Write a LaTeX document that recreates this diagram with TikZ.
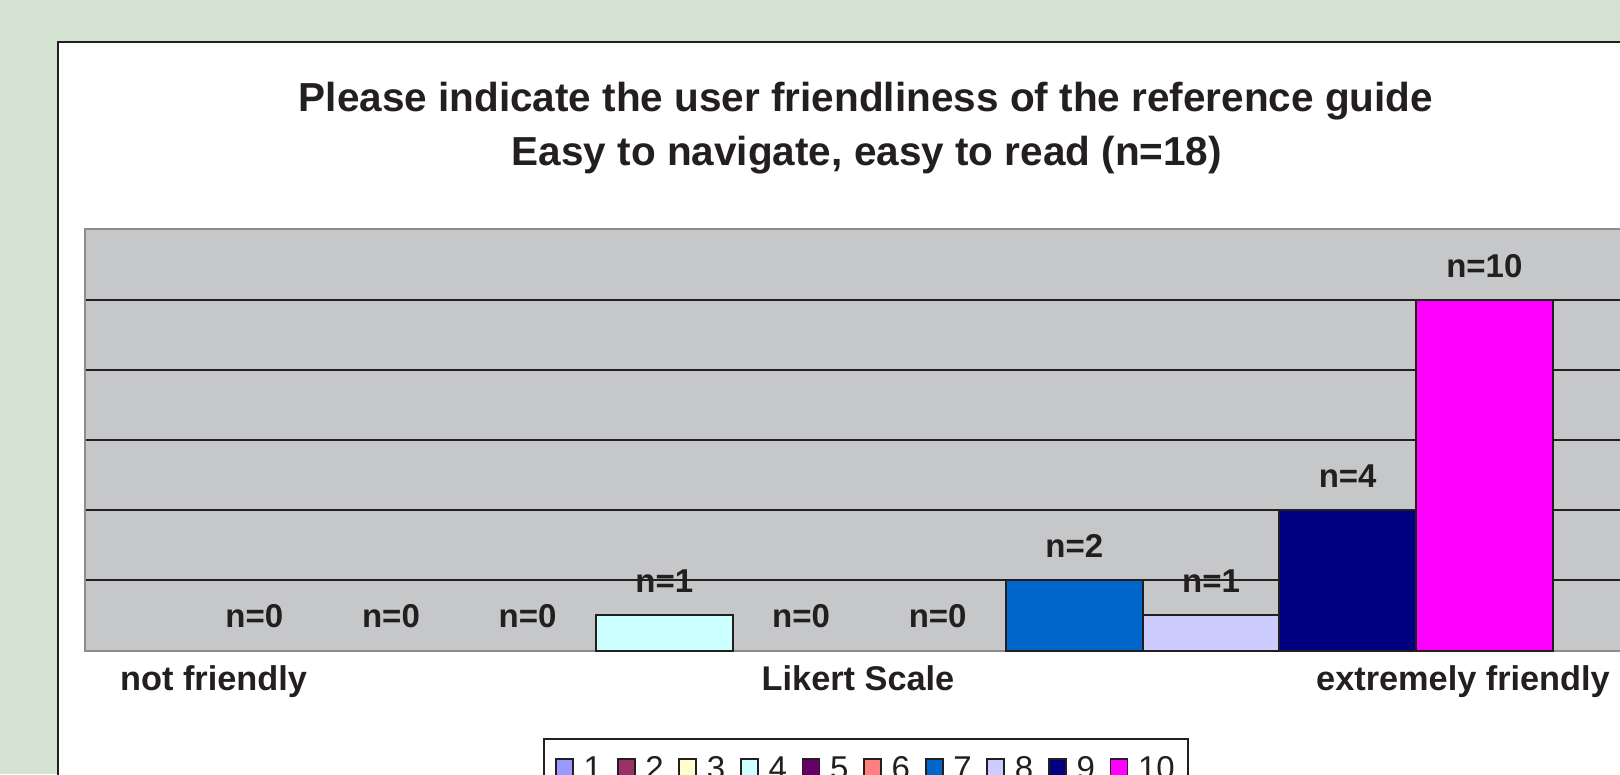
\documentclass[tikz,border=0pt]{standalone}
\usepackage{fontspec}
\setmainfont{Liberation Sans}
\definecolor{bggreen}{RGB}{212,227,209}
\definecolor{plotgray}{RGB}{198,199,201}
\definecolor{framegray}{RGB}{140,140,140}
\definecolor{ink}{RGB}{35,31,32}
\definecolor{c1}{RGB}{153,153,255}
\definecolor{c2}{RGB}{153,51,102}
\definecolor{c3}{RGB}{255,255,204}
\definecolor{c4}{RGB}{204,255,255}
\definecolor{c5}{RGB}{102,0,102}
\definecolor{c6}{RGB}{255,128,128}
\definecolor{c7}{RGB}{0,102,204}
\definecolor{c8}{RGB}{204,204,255}
\definecolor{c9}{RGB}{0,0,128}
\definecolor{c10}{RGB}{255,0,255}
\tikzset{
  panel/.style={draw=ink, line width=2pt, fill=white},
  plotframe/.style={draw=framegray, line width=2pt},
  gridline/.style={draw=ink, line width=1.9pt},
  barbox/.style={draw=ink, line width=2pt},
  titletext/.style={inner sep=0pt, text=ink, font=\fontsize{40.5}{48}\selectfont\bfseries},
  barlabel/.style={inner sep=0pt, text=ink, font=\fontsize{33}{40}\selectfont\bfseries},
  axislabel/.style={inner sep=0pt, text=ink, font=\fontsize{34.3}{41}\selectfont\bfseries},
  legendbox/.style={draw=ink, line width=2pt, fill=white},
  swatch/.style={draw=ink, line width=1.8pt},
  legendtext/.style={inner sep=0pt, text=ink, font=\fontsize{33}{40}\selectfont},
}
\begin{document}
\begin{tikzpicture}[x=1pt,y=-1pt]
\useasboundingbox (0,0) rectangle (1620,774);
\fill[bggreen] (0,0) rectangle (1620,774);

% chart panel
\draw[panel] (58,42) rectangle (1720,900);

% title
\node[titletext, anchor=base] (title1) at (866,111) {Please indicate the user friendliness of the reference guide};
\node[titletext, anchor=base] (title2) at (867,165) {Easy to navigate, easy to read (n=18)};

% plot area with gridlines every 2 responses (35 units per response)
\fill[plotgray] (85,229) rectangle (1720,651);
\foreach \v in {2,4,6,8,10}
  \draw[gridline] (85,{650-35*\v}) -- (1720,{650-35*\v});
\draw[plotframe] (1720,229) -- (85,229) -- (85,651) -- (1720,651);

% bars
\foreach \k/\n/\c in {1/0/c1,2/0/c2,3/0/c3,4/1/c4,5/0/c5,6/0/c6,7/2/c7,8/1/c8,9/4/c9,10/10/c10}{
  \pgfmathsetmacro{\xl}{596+(\k-4)*136.67}
  \ifnum\n>0
    \draw[barbox, fill=\c] (\xl,651) rectangle ({\xl+136.5},{650-35*\n});
  \fi
}

% value labels
\foreach \k/\n in {1/0,2/0,3/0,4/1,5/0,6/0,7/2,8/1,9/4,10/10}{
  \pgfmathsetmacro{\xc}{596+(\k-4)*136.67+68.3}
  \node[barlabel, anchor=base] (val\k) at (\xc,{650-35*\n-23}) {n=\n};
}

% axis captions
\node[axislabel, anchor=base west] (low) at (120,690) {not friendly};
\node[axislabel, anchor=base] (mid) at (858,690) {Likert Scale};
\node[axislabel, anchor=base east] (high) at (1610,690) {extremely friendly};

% legend
\draw[legendbox] (544,739) rectangle (1188,820);
\foreach \k/\c in {1/c1,2/c2,3/c3,4/c4,5/c5,6/c6,7/c7,8/c8,9/c9,10/c10}{
  \pgfmathsetmacro{\xs}{556+(\k-1)*61.6}
  \draw[swatch, fill=\c] (\xs,759) rectangle ({\xs+17},776);
  \node[legendtext, anchor=base west] (key\k) at ({\xs+27.5},779) {\k};
}
\end{tikzpicture}
\end{document}
